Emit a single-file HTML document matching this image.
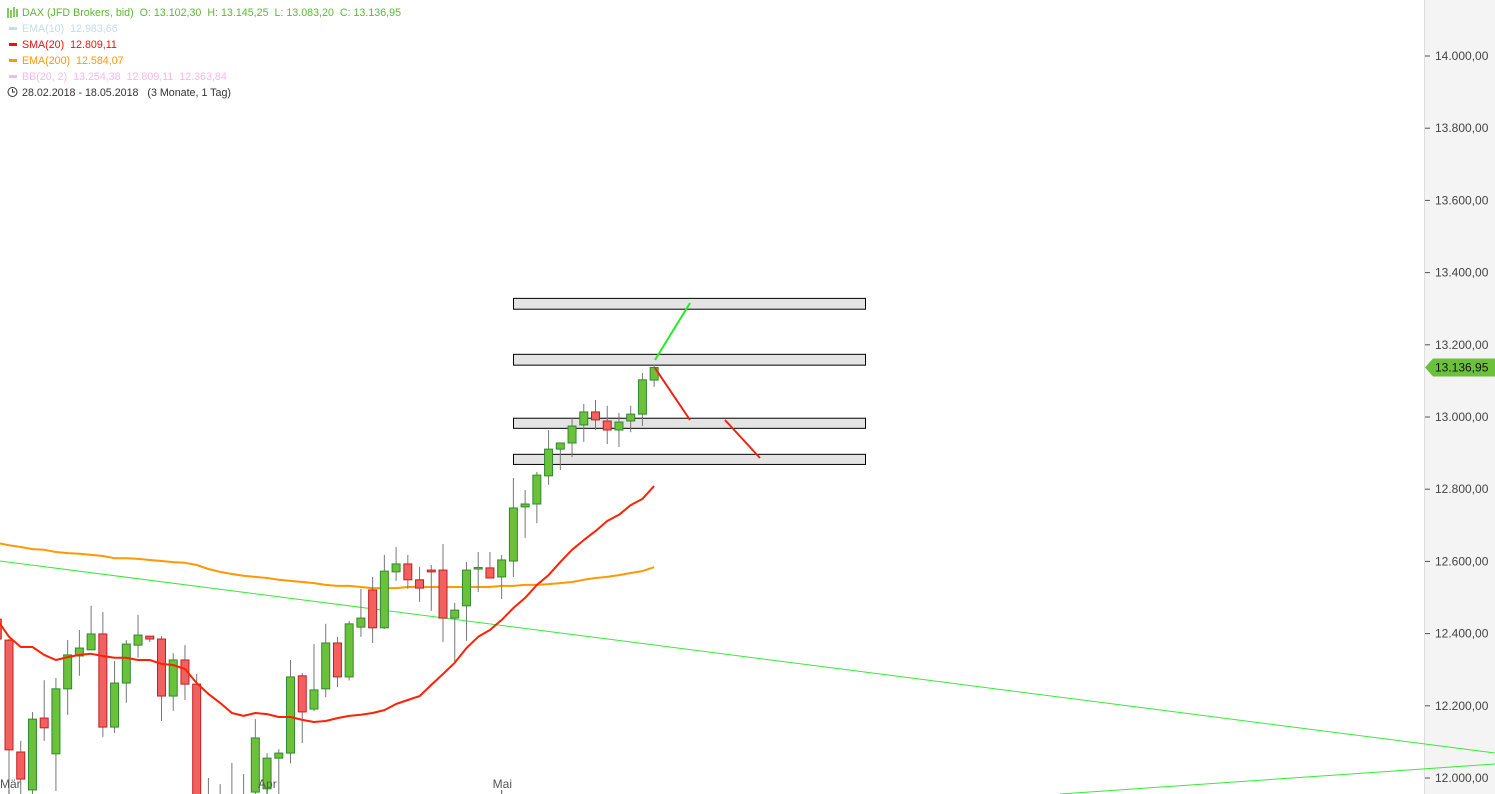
<!DOCTYPE html>
<html><head><meta charset="utf-8"><style>
body{margin:0;background:#fff;overflow:hidden}
svg{display:block;font-family:"Liberation Sans",sans-serif}
</style></head><body>
<svg id="c" width="1495" height="794"></svg>
<script>
const opens=[12440,12382,12072,11967,12166,12067,12247,12338,12355,12399,12141,12263,12368,12393,12385,12227,12327,12260,11880,11900,11900,11930,11961,11970,12055,12069,12283,12191,12247,12374,12280,12418,12521,12416,12571,12593,12549,12576,12576,12443,12477,12582,12582,12557,12601,12751,12759,12837,12911,12928,12978,13014,12989,12964,12989,13008,13102.3];
const highs=[12450,12385,12103,12183,12271,12277,12382,12410,12477,12460,12324,12382,12452,12393,12393,12346,12368,12288,12000,11983,12042,12011,12163,12069,12080,12327,12291,12371,12427,12391,12435,12524,12557,12618,12640,12618,12585,12590,12648,12485,12598,12626,12626,12618,12831,12798,12848,12964,12928,12997,13036,13047,13031,13011,13031,13122,13145.25];
const lows=[12380,11950,11930,11939,12103,11964,12175,12283,12355,12114,12125,12208,12333,12377,12158,12186,12216,11850,11850,11860,11870,11880,11930,11940,11950,12040,12097,12185,12224,12252,12270,12391,12374,12413,12546,12524,12488,12463,12377,12321,12380,12515,12554,12496,12557,12665,12706,12812,12853,12889,12931,12964,12925,12917,12958,12975,13083.2];
const closes=[12385,12078,11997,12163,12139,12247,12341,12360,12399,12141,12263,12371,12396,12385,12227,12327,12260,11900,11950,11950,11945,11950,12111,12055,12069,12280,12183,12244,12374,12280,12427,12443,12416,12573,12593,12549,12526,12571,12443,12465,12576,12583,12554,12604,12748,12759,12839,12911,12928,12975,13014,12992,12964,12986,13008,13103,13136.95];
const sma20=[12438,12391,12363,12363,12341,12327,12335,12341,12344,12338,12333,12333,12327,12327,12316,12313,12302,12263,12233,12208,12180,12172,12180,12177,12169,12169,12161,12155,12158,12166,12172,12175,12180,12188,12205,12216,12227,12258,12288,12319,12360,12391,12410,12438,12471,12499,12535,12562,12598,12632,12659,12684,12712,12729,12756,12773,12809];
const ema200=[12651,12645,12640,12634,12632,12626,12623,12621,12618,12615,12609,12609,12607,12604,12601,12598,12596,12590,12579,12571,12565,12560,12557,12554,12549,12546,12543,12540,12535,12532,12532,12529,12526,12526,12526,12529,12529,12529,12529,12529,12529,12529,12529,12532,12532,12535,12535,12537,12540,12543,12549,12554,12557,12562,12568,12573,12584];
const yTicks=[14000,13800,13600,13400,13200,13000,12800,12600,12400,12200,12000];
const zones=[[13300,13330],[13145,13175],[12970,12998],[12870,12898]];
const xLabels=[["Mär",1],["Apr",23],["Mai",43]];

const NS="http://www.w3.org/2000/svg",svg=document.getElementById('c');
const Y=v=>56+(14000-v)*722/2000;
const X=i=>9+(i-1)*11.73;
function mk(t,a,p){const e=document.createElementNS(NS,t);for(const k in a)e.setAttribute(k,a[k]);(p||svg).appendChild(e);return e;}
function fmt(v){const s=v.toFixed(2).split('.');return s[0].replace(/\B(?=(\d{3})+(?!\d))/g,'.')+','+s[1];}

let ax=mk('rect',{x:1424,y:0,width:71,height:794,fill:'#f4f4f4'});

mk('line',{x1:1424.5,y1:0,x2:1424.5,y2:794,stroke:'#ddd'});
yTicks.forEach(v=>{
 const y=Y(v);
 mk('line',{x1:1425,x2:1430,y1:y,y2:y,stroke:'#555'});
 const t=mk('text',{x:1435,y:y+4,'font-size':12,fill:'#444'});t.textContent=fmt(v);
 
 
});
zones.forEach(z=>{
 const r=mk('rect',{x:513.5,y:Y(z[1])+0.5,width:352,height:Y(z[0])-Y(z[1]),fill:'#e4e4e4',stroke:'#000','stroke-width':1});
 
 
});
let tl=mk('line',{x1:0,y1:561,x2:1495,y2:753,stroke:'#33ee33','stroke-width':1});

let tl2=mk('line',{x1:1060,y1:794,x2:1495,y2:764,stroke:'#33ee33','stroke-width':1});

function path(arr,col,w,name){
 const d=arr.map((v,i)=>(i?'L':'M')+X(i).toFixed(1)+','+Y(v).toFixed(1)).join('');
 const p=mk('path',{d:d,fill:'none',stroke:col,'stroke-width':w,'stroke-linejoin':'round'});
 
 
}
path(ema200,'#ff9900',2,'ema200-line');
opens.forEach((o,i)=>{
 const c=closes[i],x=X(i),up=c>=o;
 const g=mk('g',{});
 
 
 mk('line',{x1:x,x2:x,y1:Y(highs[i]),y2:Y(lows[i]),stroke:'#777','stroke-width':1},g);
 const t=Y(Math.max(o,c)),b=Y(Math.min(o,c));
 mk('rect',{x:x-4,y:t,width:8,height:Math.max(b-t,1.5),fill:up?'#6cc13a':'#f26060',stroke:up?'#2e8a2e':'#c22020','stroke-width':1},g);
});
path(sma20,'#ff2200',2,'sma20-line');
let a1=mk('line',{x1:655,y1:360,x2:690,y2:303,stroke:'#22ee22','stroke-width':2});

let a2=mk('line',{x1:655,y1:368,x2:690,y2:420,stroke:'#ee2211','stroke-width':2});

let a3=mk('line',{x1:725,y1:420,x2:760,y2:458,stroke:'#ee2211','stroke-width':2});

const py=Y(closes[closes.length-1]);
let tag=mk('path',{d:`M1425,${py} L1433,${py-9} L1495,${py-9} L1495,${py+9} L1433,${py+9} Z`,fill:'#6cc13a'});

let tt=mk('text',{x:1435,y:py+4,'font-size':12,fill:'#111'});tt.textContent=fmt(closes[closes.length-1]);

xLabels.forEach(l=>{
 const x=X(l[1]);
 mk('line',{x1:x,x2:x,y1:790,y2:794,stroke:'#555'});
 const t=mk('text',{x:x-9,y:788,'font-size':12,fill:'#555'});t.textContent=l[0];
 
 
});
const leg=[
 ['DAX (JFD Brokers, bid)  O: 13.102,30  H: 13.145,25  L: 13.083,20  C: 13.136,95','#5db832','dax-title'],
 ['EMA(10)  12.983,66','#c5dde8','legend-ema10'],
 ['SMA(20)  12.809,11','#ee1111','legend-sma20'],
 ['EMA(200)  12.584,07','#ff9900','legend-ema200'],
 ['BB(20, 2)  13.254,38  12.809,11  12.363,84','#f8b8ee','legend-bb'],
 ['28.02.2018 - 18.05.2018   (3 Monate, 1 Tag)','#333','date-range']];
leg.forEach((l,i)=>{
 const y=16+i*16;
 if(i==0){mk('path',{d:'M8,8v10M11,10v8M14,7v10M17,9v8',stroke:'#5db832','stroke-width':1.5});}
 else if(i<5){mk('rect',{x:9,y:y-5,width:8,height:3,fill:l[1]});}
 else{mk('circle',{cx:12.5,cy:y-4,r:4.5,fill:'none',stroke:'#333'});mk('path',{d:`M12.5,${y-7}V${y-4}H15`,stroke:'#333',fill:'none'});}
 const t=mk('text',{x:22,y:y,'font-size':10.7,fill:l[1]});t.textContent=l[0];t.setAttribute('xml:space','preserve');t.style.whiteSpace='pre';
 
 
});
</script>
</body></html>
